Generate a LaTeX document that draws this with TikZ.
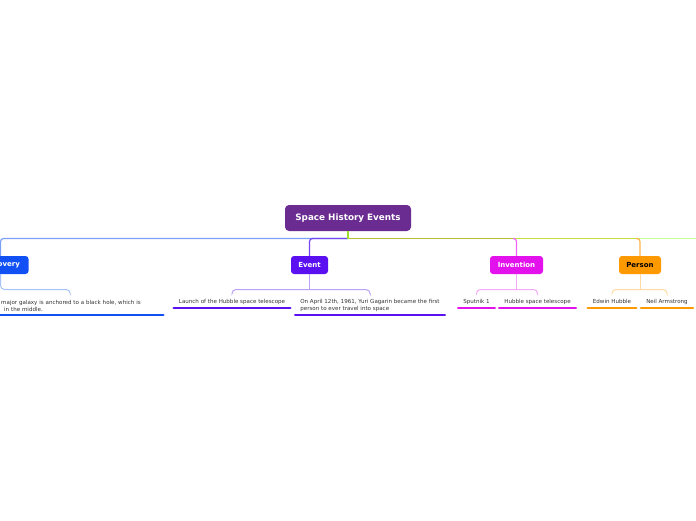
\documentclass[tikz,border=0pt]{standalone}
\usepackage{fontspec}
\setmainfont{DejaVu Sans}
\definecolor{rootc}{HTML}{6B2C91}
\definecolor{discc}{HTML}{1150F5}
\definecolor{discl}{HTML}{7BA0F5}
\definecolor{discb}{HTML}{A8C2FA}
\definecolor{evc}{HTML}{5B10F2}
\definecolor{evl}{HTML}{7444F5}
\definecolor{evb}{HTML}{BBA2F8}
\definecolor{invc}{HTML}{E312EC}
\definecolor{invh}{HTML}{B8BC3A}
\definecolor{invl}{HTML}{F060F5}
\definecolor{invb}{HTML}{F5AAF8}
\definecolor{perc}{HTML}{FF9900}
\definecolor{perh}{HTML}{C4E03A}
\definecolor{perl}{HTML}{FFB347}
\definecolor{perb}{HTML}{FFDAA2}
\definecolor{farc}{HTML}{C8FF90}
\definecolor{stubc}{HTML}{9BE02A}
\definecolor{leaftext}{HTML}{333333}
\begin{document}
\begin{tikzpicture}[x=1pt,y=-1pt,
  mainbox/.style={rounded corners=3pt, text=white, font=\fontsize{7}{8}\bfseries, inner sep=0pt, minimum height=18pt},
  leaf/.style={font=\fontsize{5.55}{7}\selectfont, text=leaftext, align=left, inner xsep=5pt, inner ysep=3.5pt, anchor=south},
  conn/.style={line width=1.2pt, rounded corners=3pt},
  brk/.style={line width=1pt, rounded corners=4pt},
  ul/.style={line width=2.6pt, line cap=round}]
\useasboundingbox (0,0) rectangle (696,520);

% root
\node[fill=rootc, rounded corners=4pt, minimum width=126pt, minimum height=26pt, inner sep=0pt,
      text=white, font=\fontsize{8.8}{10}\bfseries] (root) at (348,218) {Space History Events};

% main nodes
\node[mainbox, fill=discc, minimum width=56pt] (disc) at (0.5,265) {Discovery};
\node[mainbox, fill=evc, minimum width=37pt] (event) at (309.5,265) {Event};
\node[mainbox, fill=invc, minimum width=53pt] (inv) at (516.5,265) {Invention};
\node[mainbox, fill=perc, minimum width=42pt, text=black] (per) at (640,265) {Person};

% connectors from root
\coordinate (j) at (348,238.5);
\coordinate (far) at (700,238.5);
\coordinate (jp) at (636,238.5);
\coordinate (ji) at (513,238.5);
\draw[conn, farc] (j) -- (far);
\draw[conn, perh] (j) -- (jp);
\draw[conn, perl] (jp) -| (per.north);
\draw[conn, invh] (j) -- (ji);
\draw[conn, invl] (ji) -| (inv.north);
\draw[conn, discl] (j) -| (disc.north);
\draw[conn, evl] (j) -| (event.north);
\draw[conn, stubc] (root.south) -- (j);

% leaves
\node[leaf, anchor=south west, text width=157pt] (d1) at (-4,315)
  {major galaxy is anchored to a black hole, which is\\\hspace*{3pt}in the middle.};
\node[leaf] (e1) at (232,308) {Launch of the Hubble space telescope};
\node[leaf] (e2) at (370,315) {On April 12th, 1961, Yuri Gagarin became the first\\person to ever travel into space};
\node[leaf] (i1) at (476.5,308) {Sputnik 1};
\node[leaf] (i2) at (537.5,308) {Hubble space telescope};
\node[leaf] (p1) at (612,308) {Edwin Hubble\vphantom{g}};
\node[leaf] (p2) at (667,308) {Neil Armstrong};

% underlines
\draw[ul, discc] (d1.south west) -- (d1.south east);
\draw[ul, evc] (e1.south west) -- (e1.south east);
\draw[ul, evc] (e2.south west) -- (e2.south east);
\draw[ul, invc] (i1.south west) -- (i1.south east);
\draw[ul, invc] (i2.south west) -- (i2.south east);
\draw[ul, perc] (p1.south west) -- (p1.south east);
\draw[ul, perc] (p2.south west) -- (p2.south east);

% brackets
\coordinate (db) at (0.5,289.5);
\draw[brk, discb] (disc.south) -- (db) -| ([xshift=-9.5pt,yshift=3pt]d1.north);
\coordinate (eb) at (309.5,289.5);
\draw[brk, evb] (event.south) -- (eb);
\draw[brk, evb] (e1.north |- 0,293) |- (eb) -| (e2.north |- 0,293);
\coordinate (ib) at (516.5,289.5);
\draw[brk, invb] (inv.south) -- (ib);
\draw[brk, invb] (i1.north |- 0,293) |- (ib) -| (i2.north |- 0,293);
\coordinate (pb) at (640,289.5);
\draw[brk, perb] (per.south) -- (pb);
\draw[brk, perb] (p1.north |- 0,293) |- (pb) -| (p2.north |- 0,293);
\end{tikzpicture}
\end{document}
